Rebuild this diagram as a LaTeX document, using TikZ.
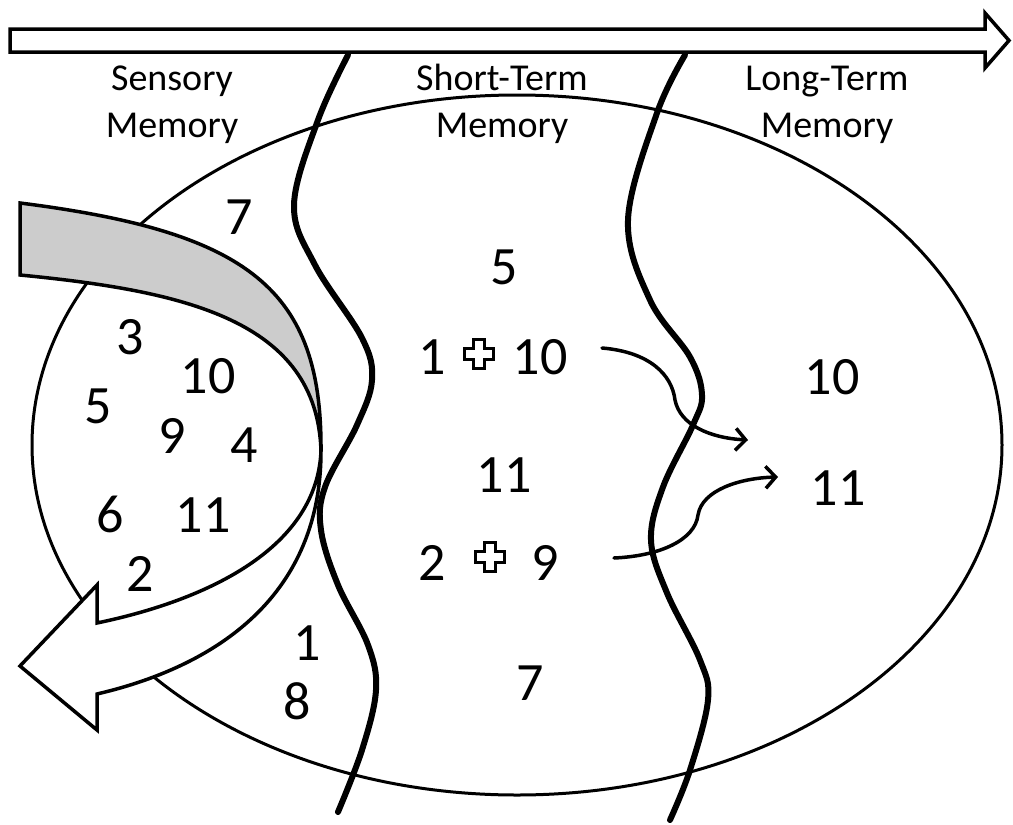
\documentclass[tikz,border=0pt]{standalone}
\usepackage{fontspec}
\setmainfont{Carlito}
\usetikzlibrary{arrows.meta}
\begin{document}
\begin{tikzpicture}[x=1pt,y=-1pt,
  num/.style={inner sep=0pt, font=\fontsize{54}{60}\selectfont},
  lbl/.style={inner sep=0pt, align=center, font=\fontsize{38}{47}\selectfont, anchor=base},
  wave/.style={line width=6pt, line cap=round},
  flow/.style={line width=3.5pt, -{Straight Barb[length=10pt,width=22pt]}, line cap=round},
  outl/.style={line width=3.5pt, line join=miter},
  crossmark/.pic={\draw[line width=3.5pt, line join=miter, fill=white] (-5.5,-14.5) -- (5.5,-14.5) -- (5.5,-5.5) -- (14.5,-5.5) -- (14.5,5.5) -- (5.5,5.5) -- (5.5,14.5) -- (-5.5,14.5) -- (-5.5,5.5) -- (-14.5,5.5) -- (-14.5,-5.5) -- (-5.5,-5.5) -- cycle;}
]
\useasboundingbox (0,0) rectangle (1013,825);
\fill[white] (0,0) rectangle (1013,825);

% time arrow
\draw[outl, fill=white] (10,29) -- (985,29) -- (985,13) -- (1009,40.5) -- (985,68) -- (985,52) -- (10,52) -- cycle;

% memory ellipse
\draw[line width=3pt] (517,445) ellipse [x radius=485pt, y radius=350pt];

% curved ribbon arrow
\fill[black!20] (20,203) .. controls (250,232) and (322,290) .. (321,451)
   .. controls (317,320) and (184,291) .. (20,275) -- cycle;
\fill[white] (321,451) .. controls (321,593) and (221,665) .. (97,694) -- (97,730) -- (20,666) -- (97,585) -- (97,623)
   .. controls (212,599) and (317,546) .. (321,451) -- cycle;
\draw[outl] (20,203) .. controls (250,232) and (322,290) .. (321,451)
   .. controls (321,593) and (221,665) .. (97,694) -- (97,730) -- (20,666) -- (97,585) -- (97,623)
   .. controls (212,599) and (317,546) .. (321,451)
   .. controls (317,320) and (184,291) .. (20,275) -- cycle;

% boundaries
\draw[wave] plot[smooth, tension=0.6] coordinates {(348,55) (318,120) (294,205) (315,265) (362,338) (372,380) (357,425) (325,487) (321,530) (338,585) (368,645) (376,690) (362,750) (338,812)};
\draw[wave] plot[smooth, tension=0.6] coordinates {(685,55) (657,113) (628,220) (650,300) (690,357) (702,395) (693,425) (663,487) (651,540) (667,593) (700,660) (708,700) (690,770) (670,820)};

% labels
\node[lbl] (sens) at (172,137) {Sensory\\Memory};
\node[lbl] (stm) at (502,137) {Short-Term\\Memory};
\node[lbl] (ltm) at (827,137) {Long-Term\\Memory};

% sensory memory items
\node[num] (s7) at (239,217) {7};
\node[num] (s3) at (130,337) {3};
\node[num] (s10) at (208,376) {10};
\node[num] (s5) at (98,406) {5};
\node[num] (s9) at (172,436) {9};
\node[num] (s4) at (244,445) {4};
\node[num] (s6) at (110,514) {6};
\node[num] (s11) at (203,515) {11};
\node[num] (s2) at (140,574) {2};
\node[num] (s1) at (307,643) {1};
\node[num] (s8) at (297,701) {8};

% short-term memory items
\node[num] (m5) at (504,267) {5};
\node[num] (m1) at (432,357) {1};
\pic at (479,354) {crossmark};
\node[num] (m10) at (540,357) {10};
\node[num] (m11) at (504,475) {11};
\node[num] (m2) at (432,563) {2};
\pic at (490,557) {crossmark};
\node[num] (m9) at (545,563) {9};
\node[num] (m7) at (530,683) {7};

% long-term memory items
\node[num] (l10) at (832,377) {10};
\node[num] (l11) at (838,488) {11};

% transfer arrows
\coordinate (a1s) at (602,348);
\coordinate (a1e) at (748,440);
\coordinate (a2s) at (614,558);
\coordinate (a2e) at (778,477);
\draw[flow] (a1s) .. controls (650,352) and (672,375) .. (675,400) .. controls (680,425) and (710,438) .. (a1e);
\draw[flow] (a2s) .. controls (660,556) and (695,540) .. (698,515) .. controls (702,490) and (740,478) .. (a2e);
\end{tikzpicture}
\end{document}
